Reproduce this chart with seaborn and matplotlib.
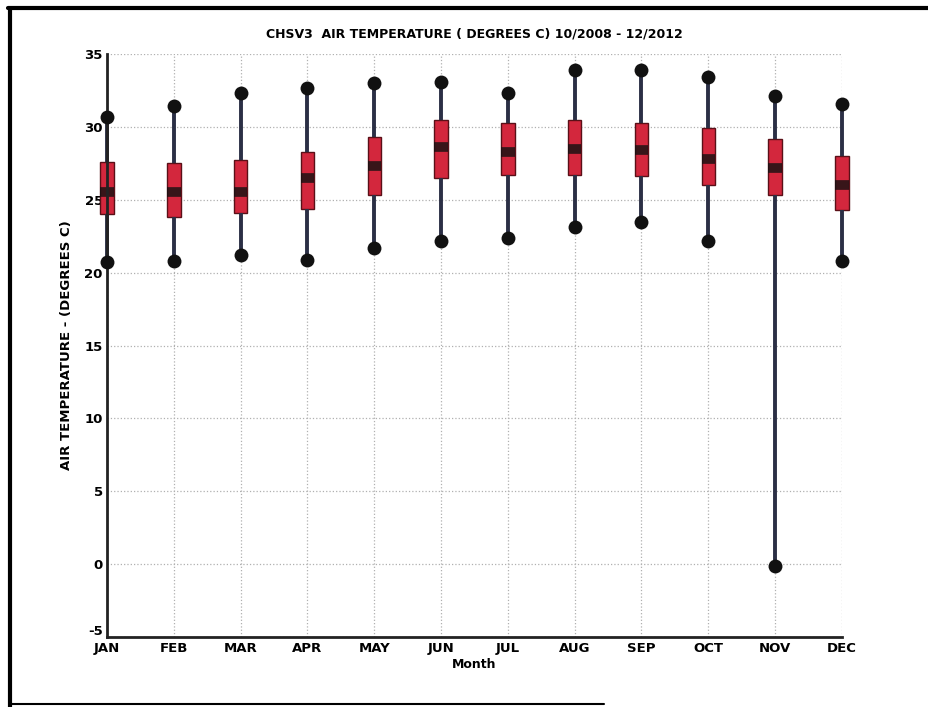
import pandas as pd
import matplotlib.pyplot as plt
import matplotlib.lines as mlines
import matplotlib.transforms as mtrans
import seaborn as sns
import numpy as np

# Monthly air temperature summary (deg C)
months = ['JAN', 'FEB', 'MAR', 'APR', 'MAY', 'JUN', 'JUL', 'AUG', 'SEP', 'OCT', 'NOV', 'DEC']
t_min = [20.7, 20.8, 21.2, 20.9, 21.7, 22.2, 22.4, 23.1, 23.5, 22.2, -0.1, 20.8]
t_q1 = [24.0, 23.8, 24.1, 24.4, 25.3, 26.5, 26.7, 26.7, 26.6, 26.0, 25.3, 24.3]
t_med = [25.5, 25.5, 25.5, 26.5, 27.3, 28.6, 28.3, 28.5, 28.4, 27.8, 27.2, 26.0]
t_q3 = [27.6, 27.5, 27.7, 28.3, 29.3, 30.5, 30.3, 30.5, 30.3, 29.9, 29.2, 28.0]
t_max = [30.7, 31.4, 32.3, 32.7, 33.0, 33.1, 32.3, 33.9, 33.9, 33.4, 32.1, 31.6]

# Five points per month give exactly these quartiles
rows = []
for i, m in enumerate(months):
    for v in (t_min[i], t_q1[i], t_med[i], t_q3[i], t_max[i]):
        rows.append({'Month': m, 'Temp': v})
df = pd.DataFrame(rows)

ends = pd.DataFrame({'Month': months * 2, 'Temp': t_min + t_max})

sns.set_style('white')
plt.rcParams['font.family'] = ['DejaVu Sans']
plt.rcParams['axes.unicode_minus'] = False

fig = plt.figure(figsize=(9.29, 7.07), dpi=100)
ax = fig.add_axes([0.1152, 0.099, 0.791, 0.8246])

sns.boxplot(data=df, x='Month', y='Temp', order=months, whis=(0, 100), width=0.2,
            color='#d3273d', saturation=1, showcaps=False, ax=ax,
            boxprops=dict(edgecolor='#5a1018', linewidth=1.0),
            whiskerprops=dict(color='#2b2f45', linewidth=2.8),
            medianprops=dict(color='#111111', linewidth=7, alpha=0.8),
            flierprops=dict(marker=''))
sns.stripplot(data=ends, x='Month', y='Temp', order=months, jitter=False,
              color='#111111', size=10, ax=ax, zorder=5)

for art in ax.get_children():
    try:
        art.set_clip_on(False)
    except Exception:
        pass

ax.set_xlim(0, 11)
ax.set_ylim(-5, 35)
ax.set_yticks(np.arange(-5, 36, 5))
ax.grid(True, linestyle=':', color='#b0b0b0', linewidth=0.9)
ax.set_axisbelow(True)
for s in ['top', 'right']:
    ax.spines[s].set_visible(False)
for s in ['left', 'bottom']:
    ax.spines[s].set_linewidth(2)
    ax.spines[s].set_color('#222222')
ax.tick_params(direction='in', length=5, width=1.5, colors='#111111', labelsize=9.5)
ax.tick_params(axis='y', pad=3)
for lab in ax.get_xticklabels() + ax.get_yticklabels():
    lab.set_fontweight('bold')
    lab.set_color('black')

# nudge the lowest y label up so it clears JAN
low = ax.get_yticklabels()[0]
low.set_transform(low.get_transform() + mtrans.ScaledTranslation(0, 5 / 72, fig.dpi_scale_trans))

ax.set_title('CHSV3  AIR TEMPERATURE ( DEGREES C) 10/2008 - 12/2012', fontsize=9,
             fontweight='bold', color='black', pad=12)
ax.set_xlabel('Month', fontsize=9, fontweight='bold', color='black', labelpad=2)
ax.set_ylabel('AIR TEMPERATURE - (DEGREES C)', fontsize=9.5, fontweight='bold',
              color='black', labelpad=8)

# scanned page frame
fig.add_artist(mlines.Line2D([0.009, 1.0], [0.988, 0.988], color='black', linewidth=3))
fig.add_artist(mlines.Line2D([0.011, 0.011], [0.0, 0.988], color='black', linewidth=3))
fig.add_artist(mlines.Line2D([0.011, 0.65], [0.004, 0.004], color='black', linewidth=1.5))

plt.savefig('out.png', dpi=100)
